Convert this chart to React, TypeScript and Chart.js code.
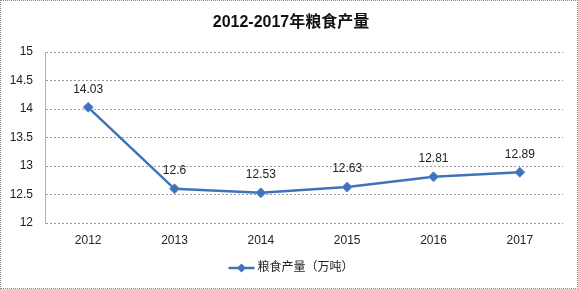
import React, { useEffect, useRef } from "react";
import { Chart, registerables } from "chart.js";

Chart.register(...registerables);

const years = ["2012", "2013", "2014", "2015", "2016", "2017"];
const grainOutput = [14.03, 12.6, 12.53, 12.63, 12.81, 12.89];
const seriesName = "粮食产量（万吨）";
const chartTitle = "2012-2017年粮食产量";
const yMin = 12;
const yMax = 15;
const yStep = 0.5;

const LINE_COLOR = "#3F72B8";
const FONT = "'Liberation Sans', 'Noto Sans CJK SC', sans-serif";

const overlayPlugin = {
  id: "overlay",
  afterDatasetsDraw(chart: any) {
    const ctx = chart.ctx;
    const meta = chart.getDatasetMeta(0);
    ctx.save();
    ctx.fillStyle = "#222";
    ctx.font = `12px ${FONT}`;
    ctx.textAlign = "center";
    ctx.textBaseline = "middle";
    meta.data.forEach((pt: any, i: number) => {
      ctx.fillText(String(chart.data.datasets[0].data[i]), pt.x, pt.y - 18);
    });
    ctx.restore();
  },
  afterDraw(chart: any) {
    const ctx = chart.ctx;
    const w = chart.width;
    ctx.save();
    ctx.fillStyle = "#111";
    ctx.font = `bold 16px ${FONT}`;
    ctx.textAlign = "center";
    ctx.textBaseline = "middle";
    ctx.fillText(chartTitle, w / 2 + 2, 22);
    const ly = 267;
    ctx.font = `12px ${FONT}`;
    ctx.textAlign = "left";
    const textW = ctx.measureText(seriesName).width;
    const total = 26 + 3 + textW;
    const x0 = (w - total) / 2 + 2;
    ctx.strokeStyle = LINE_COLOR;
    ctx.lineWidth = 2.5;
    ctx.beginPath();
    ctx.moveTo(x0, ly);
    ctx.lineTo(x0 + 26, ly);
    ctx.stroke();
    ctx.fillStyle = LINE_COLOR;
    const cx = x0 + 13;
    ctx.beginPath();
    ctx.moveTo(cx, ly - 4.5);
    ctx.lineTo(cx + 4.5, ly);
    ctx.lineTo(cx, ly + 4.5);
    ctx.lineTo(cx - 4.5, ly);
    ctx.closePath();
    ctx.fill();
    ctx.fillStyle = "#222";
    ctx.fillText(seriesName, x0 + 29, ly);
    ctx.restore();
  },
};

export default function App() {
  const ref = useRef<HTMLCanvasElement>(null);
  useEffect(() => {
    document.body.style.margin = "0";
    const chart = new Chart(ref.current!, {
      type: "line",
      data: {
        labels: years,
        datasets: [
          {
            label: seriesName,
            data: grainOutput,
            borderColor: LINE_COLOR,
            backgroundColor: LINE_COLOR,
            borderWidth: 2.5,
            pointStyle: "rectRot",
            pointRadius: 5,
            pointBorderWidth: 1,
            pointBorderColor: "#5B8BD0",
            tension: 0,
          },
        ],
      },
      options: {
        responsive: false,
        animation: false,
        layout: { padding: { top: 51, right: 14, bottom: 35, left: 0 } },
        plugins: {
          legend: { display: false },
          title: { display: false },
          tooltip: { enabled: false },
        },
        scales: {
          x: {
            offset: true,
            grid: { display: false, drawTicks: false },
            border: { display: false },
            ticks: { color: "#222", font: { size: 12, family: FONT }, padding: 10 },
            afterFit(scale: any) {
              scale.height = 30;
            },
          },
          y: {
            min: yMin,
            max: yMax,
            ticks: {
              stepSize: yStep,
              color: "#222",
              font: { size: 12, family: FONT },
              padding: 12,
              callback: (v: any) => String(Number(v)),
            },
            grid: { color: "#9a9a9a", drawTicks: false, lineWidth: 1 },
            border: { display: true, color: "#9DB3D6", width: 1, dash: [2, 2] },
            afterFit(scale: any) {
              scale.width = 44;
            },
          },
        },
      },
      plugins: [overlayPlugin],
    });
    return () => chart.destroy();
  }, []);
  return (
    <div
      style={{
        position: "fixed",
        left: 0,
        top: 0,
        width: 578,
        height: 289,
        boxSizing: "border-box",
        border: "1px dotted #888",
        background: "#fff",
      }}
    >
      <canvas
        ref={ref}
        width={576}
        height={287}
        style={{ display: "block", width: 576, height: 287 }}
      />
    </div>
  );
}
